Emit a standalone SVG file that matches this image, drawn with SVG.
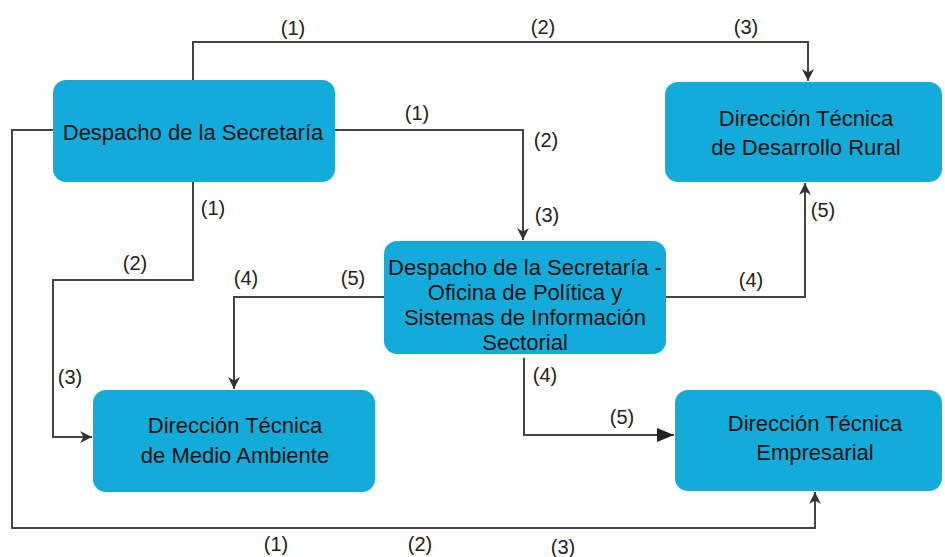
<svg xmlns="http://www.w3.org/2000/svg" width="945" height="557" viewBox="0 0 945 557">
<defs>
<style>
.box{fill:#13ACDA;}
.bt{font-family:"Liberation Sans",Arial,sans-serif;font-size:22px;fill:#111;text-anchor:middle;}
.lb{font-family:"Liberation Sans",Arial,sans-serif;font-size:20px;fill:#222;text-anchor:middle;}
.cn{fill:none;stroke:#444;stroke-width:2;}
</style>
<marker id="ah" markerUnits="userSpaceOnUse" markerWidth="12" markerHeight="12" viewBox="0 0 12 12" refX="12" refY="6" orient="auto">
<path d="M0,0 L12,6 L0,12 L3.5,6 z" fill="#333"/>
</marker>
<marker id="ahb" markerUnits="userSpaceOnUse" markerWidth="17" markerHeight="14" viewBox="0 0 17 14" refX="17" refY="7" orient="auto">
<path d="M0,0 L17,7 L0,14 z" fill="#222"/>
</marker>
</defs>
<rect width="945" height="557" fill="#fff"/>
<g id="connectors">
<path class="cn" d="M193,80 V42 H808 V81" marker-end="url(#ah)"/>
<path class="cn" d="M335,130 H523 V240" marker-end="url(#ah)"/>
<path class="cn" d="M193,182 V280 H53 V437 H92" marker-end="url(#ah)"/>
<path class="cn" d="M384,297 H234 V389" marker-end="url(#ah)"/>
<path class="cn" d="M666,297 H805 V183" marker-end="url(#ah)"/>
<path class="cn" d="M524,358 V435 H674" marker-end="url(#ahb)"/>
<path class="cn" d="M53,130 H12 V528 H815 V492" marker-end="url(#ah)"/>
</g>
<g id="labels">
<text class="lb" x="293" y="35">(1)</text>
<text class="lb" x="543" y="34">(2)</text>
<text class="lb" x="746" y="34">(3)</text>
<text class="lb" x="417" y="120">(1)</text>
<text class="lb" x="546" y="147">(2)</text>
<text class="lb" x="547" y="222">(3)</text>
<text class="lb" x="213" y="215">(1)</text>
<text class="lb" x="135" y="270">(2)</text>
<text class="lb" x="70" y="384">(3)</text>
<text class="lb" x="246" y="285">(4)</text>
<text class="lb" x="353" y="285">(5)</text>
<text class="lb" x="751" y="287">(4)</text>
<text class="lb" x="823" y="217">(5)</text>
<text class="lb" x="545" y="382">(4)</text>
<text class="lb" x="622" y="424">(5)</text>
<text class="lb" x="276" y="551">(1)</text>
<text class="lb" x="420" y="551">(2)</text>
<text class="lb" x="563" y="554">(3)</text>
</g>
<g id="n-despacho">
<rect class="box" x="53" y="80" width="282" height="102" rx="13"/>
<text class="bt" x="193" y="140">Despacho de la Secretaría</text>
</g>
<g id="n-rural">
<rect class="box" x="665" y="82" width="277" height="100" rx="13"/>
<text class="bt" x="806" y="126">Dirección Técnica</text>
<text class="bt" x="806" y="155">de Desarrollo Rural</text>
</g>
<g id="n-oficina">
<rect class="box" x="384" y="241" width="282" height="113" rx="13"/>
<text class="bt" x="525" y="275">Despacho de la Secretaría -</text>
<text class="bt" x="525" y="300">Oficina de Política y</text>
<text class="bt" x="525" y="325">Sistemas de Información</text>
<text class="bt" x="525" y="350">Sectorial</text>
</g>
<g id="n-ambiente">
<rect class="box" x="93" y="390" width="282" height="102" rx="13"/>
<text class="bt" x="235" y="433">Dirección Técnica</text>
<text class="bt" x="235" y="463">de Medio Ambiente</text>
</g>
<g id="n-empresarial">
<rect class="box" x="675" y="390" width="267" height="101" rx="13"/>
<text class="bt" x="815" y="431">Dirección Técnica</text>
<text class="bt" x="815" y="460">Empresarial</text>
</g>
</svg>
